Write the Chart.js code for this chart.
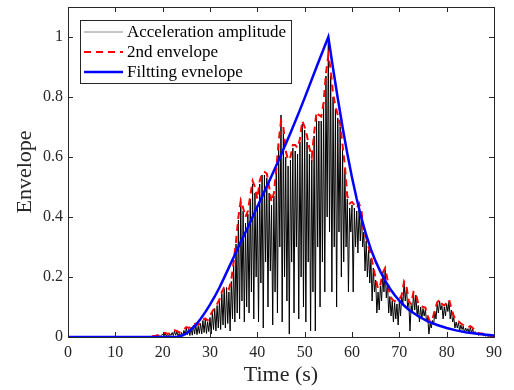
<!DOCTYPE html>
<html>
<head>
<meta charset="utf-8">
<script src="https://cdn.jsdelivr.net/npm/chart.js@4.4.1/dist/chart.umd.min.js"></script>
<style>
  html, body { margin: 0; padding: 0; background: #fff; }
  #wrap { width: 514px; height: 390px; }
</style>
</head>
<body>
<div id="wrap"><canvas id="chart" width="514" height="390"></canvas></div>
<script>
// Envelope of an acceleration record

var xTicks = [0, 10, 20, 30, 40, 50, 60, 70, 80, 90];
var yTicks = [0, 0.2, 0.4, 0.6, 0.8, 1];
var yTickLabels = ['0', '0.2', '0.4', '0.6', '0.8', '1'];

// acceleration amplitude, one sample every 0.25 s from t = 0
var accStart = 0, accStep = 0.25;
var accAmp = [
  0,0,0,0,0,0,0,0,  0,0,0,0,0,0,0,0,  0,0,0,0,0,0,0,0,
  0,0,0,0,0,0,0,0,  0,0,0,0,0,0,0,0,  0,0,0,0,0,0,0,0,
  0,0,0,0,0,0,0,0,  0,0,0,0,0,0,0,0,  0,0,0,0,0,0,0,0,
  0.001,0.002,0.001,0.003,0.002,0.004,0.002,0.006,
  0.010,0.003,0.012,0.004,0.008,0.002,0.010,0.005,
  0.015,0.005,0.020,0.006,0.018,0.004,0.012,0.003,
  0.015,0.004,0.022,0.006,0.030,0.008,0.026,0.005,
  0.032,0.006,0.040,0.010,0.042,0.008,0.036,0.012,
  0.045,0.010,0.055,0.015,0.060,0.012,0.050,0.018,
  0.065,0.010,0.080,0.025,0.095,0.020,0.105,0.030,
  0.120,0.025,0.145,0.040,0.160,0.030,0.165,0.045,
  0.150,0.020,0.185,0.060,0.240,0.050,0.310,0.080,
  0.390,0.060,0.450,0.120,0.420,0.050,0.380,0.100,
  0.410,0.080,0.460,0.150,0.510,0.060,0.480,0.200,
  0.440,0.050,0.510,0.180,0.540,0.030,0.540,0.250,
  0.530,0.100,0.480,0.220,0.440,0.040,0.470,0.150,
  0.550,0.080,0.640,0.300,0.740,0.050,0.690,0.200,
  0.600,0.120,0.570,0.010,0.590,0.250,0.630,0.080,
  0.620,0.300,0.610,0.060,0.650,0.200,0.710,0.100,
  0.690,0.050,0.650,0.250,0.610,0.020,0.590,0.150,
  0.670,0.020,0.740,0.300,0.720,0.100,0.720,0.250,
  0.770,0.150,0.870,0.400,0.990,0.350,0.870,0.150,
  0.800,0.300,0.760,0.100,0.730,0.350,0.700,0.200,
  0.630,0.250,0.560,0.300,0.460,0.150,0.430,0.350,
  0.440,0.150,0.430,0.300,0.420,0.280,0.430,0.320,
  0.410,0.300,0.350,0.220,0.320,0.200,0.290,0.180,
  0.260,0.120,0.230,0.150,0.190,0.080,0.150,0.090,
  0.170,0.120,0.210,0.150,0.225,0.130,0.180,0.080,
  0.135,0.070,0.120,0.050,0.115,0.060,0.110,0.040,
  0.120,0.070,0.135,0.110,0.180,0.120,0.165,0.100,
  0.115,0.020,0.105,0.080,0.145,0.090,0.140,0.070,
  0.105,0.050,0.100,0.060,0.095,0.070,0.092,0.050,
  0.065,0.010,0.045,0.030,0.055,0.040,0.085,0.060,
  0.110,0.080,0.120,0.090,0.105,0.060,0.100,0.070,
  0.110,0.085,0.120,0.060,0.090,0.050,0.065,0.030,
  0.050,0.030,0.048,0.020,0.040,0.025,0.036,0.015,
  0.030,0.020,0.028,0.012,0.032,0.015,0.026,0.010,
  0.018,0.008,0.013,0.005,0.010,0.006,0.010,0.004,
  0.006,0.003,0.005,0.002,0.004,0.002,0.003,0.001,
  0.001
];

// 2nd envelope, one sample every 0.5 s from t = 0
var envStart = 0, envStep = 0.5;
var env2nd = [
  0,0,0,0,0,0,0,0,  0,0,0,0,0,0,0,0,  0,0,0,0,0,0,0,0,
  0,0,0,0,0,0,0,0,  0,0,0,0,
  0.003,0.004,0.006,0.008,0.012,0.014,0.010,0.012,
  0.018,0.022,0.020,0.015,0.018,0.025,0.033,0.030,
  0.035,0.042,0.045,0.040,0.048,0.058,0.062,0.055,
  0.070,0.085,0.098,0.110,0.125,0.150,0.165,0.170,
  0.160,0.190,0.250,0.320,0.400,0.455,0.430,0.400,
  0.420,0.470,0.520,0.500,0.460,0.520,0.545,0.550,
  0.545,0.500,0.450,0.480,0.560,0.650,0.720,0.700,
  0.620,0.590,0.600,0.640,0.640,0.630,0.660,0.720,
  0.700,0.670,0.630,0.600,0.680,0.750,0.740,0.735,
  0.780,0.880,0.940,0.890,0.810,0.770,0.740,0.710,
  0.640,0.570,0.470,0.445,0.450,0.440,0.430,0.445,
  0.420,0.350,0.330,0.300,0.270,0.235,0.195,0.160,
  0.175,0.215,0.230,0.190,0.140,0.125,0.120,0.118,
  0.125,0.140,0.185,0.170,0.120,0.110,0.150,0.145,
  0.110,0.105,0.100,0.098,0.070,0.050,0.060,0.090,
  0.115,0.125,0.110,0.105,0.115,0.125,0.095,0.070,
  0.055,0.052,0.045,0.040,0.035,0.032,0.036,0.030,
  0.020,0.015,0.012,0.012,0.008,0.006,0.005,0.004,
  0.003
];

// fitted envelope
var fitTime = [0, 23, 24, 25, 26, 27, 28, 29, 30, 31, 32, 33, 34, 35, 36, 37, 38, 39, 40,
  41, 42, 43, 44, 45, 46, 47, 48, 49, 50, 51, 52, 53, 54, 55, 56, 57, 58, 59, 60,
  61, 62, 63, 64, 65, 66, 67, 68, 69, 70, 71, 72, 74, 76, 78, 80, 82, 84, 86, 88, 90];
var fitEnv = [0, 0, 0.004, 0.012, 0.025, 0.040, 0.060, 0.083, 0.108, 0.135, 0.165, 0.198, 0.232, 0.266, 0.300, 0.333, 0.366, 0.400, 0.434,
  0.468, 0.502, 0.537, 0.572, 0.607, 0.643, 0.680, 0.718, 0.757, 0.797, 0.838, 0.879, 0.920, 0.960, 1.000, 0.895, 0.795, 0.700, 0.612, 0.532,
  0.460, 0.396, 0.340, 0.292, 0.252, 0.218, 0.188, 0.162, 0.140, 0.121, 0.105, 0.091, 0.069, 0.052, 0.040, 0.030, 0.022, 0.016, 0.012, 0.008, 0.005];

var SERIF = "'Liberation Serif', 'Times New Roman', serif";
var INK = '#262626';

function sampled(start, step, values) {
  return values.map(function (v, i) { return { x: start + i * step, y: v }; });
}
function paired(xs, ys) {
  return xs.map(function (x, i) { return { x: x, y: ys[i] }; });
}

// box round the plot with inward ticks on all four sides (MATLAB look)
var frame = {
  id: 'frame',
  afterDatasetsDraw: function (chart) {
    var ctx = chart.ctx, a = chart.chartArea;
    var sx = chart.scales.x, sy = chart.scales.y, len = 5;
    ctx.save();
    ctx.strokeStyle = INK;
    ctx.lineWidth = 1;
    ctx.strokeRect(Math.round(a.left) + 0.5, Math.round(a.top) + 0.5,
      Math.round(a.right - a.left), Math.round(a.bottom - a.top));
    ctx.beginPath();
    xTicks.forEach(function (v) {
      var px = Math.round(sx.getPixelForValue(v)) + 0.5;
      ctx.moveTo(px, a.bottom); ctx.lineTo(px, a.bottom - len);
      ctx.moveTo(px, a.top); ctx.lineTo(px, a.top + len);
    });
    yTicks.forEach(function (v) {
      var py = Math.round(sy.getPixelForValue(v)) + 0.5;
      ctx.moveTo(a.left, py); ctx.lineTo(a.left + len, py);
      ctx.moveTo(a.right, py); ctx.lineTo(a.right - len, py);
    });
    ctx.stroke();
    ctx.restore();
  }
};

// legend box in the upper left corner of the plot
var boxLegend = {
  id: 'boxLegend',
  afterDraw: function (chart) {
    var ctx = chart.ctx;
    var x = 80, y = 20, w = 211, h = 63;
    ctx.save();
    ctx.fillStyle = '#fff';
    ctx.fillRect(x, y, w, h);
    ctx.strokeStyle = INK;
    ctx.lineWidth = 1;
    ctx.strokeRect(x + 0.5, y + 0.5, w, h);
    ctx.font = '17px ' + SERIF;
    ctx.textBaseline = 'middle';
    ctx.fillStyle = '#000';
    chart.data.datasets.forEach(function (ds, i) {
      var ly = y + 12 + i * 20;
      ctx.beginPath();
      ctx.strokeStyle = i === 0 ? '#8c8c8c' : ds.borderColor;
      ctx.lineWidth = Math.max(ds.borderWidth, 1);
      ctx.setLineDash(ds.borderDash || []);
      ctx.moveTo(84, ly);
      ctx.lineTo(123, ly);
      ctx.stroke();
      ctx.setLineDash([]);
      ctx.fillText(ds.label, 127, ly + 1);
    });
    ctx.restore();
  }
};

new Chart(document.getElementById('chart'), {
  type: 'line',
  data: {
    datasets: [
      {
        label: 'Acceleration amplitude',
        data: sampled(accStart, accStep, accAmp),
        borderColor: '#000000', borderWidth: 1,
        pointRadius: 0, tension: 0, order: 3
      },
      {
        label: '2nd envelope',
        data: sampled(envStart, envStep, env2nd),
        borderColor: '#ff0000', borderWidth: 2, borderDash: [7, 5],
        pointRadius: 0, tension: 0, order: 2
      },
      {
        label: 'Filtting evnelope',
        data: paired(fitTime, fitEnv),
        borderColor: '#0000ff', borderWidth: 2.5,
        pointRadius: 0, tension: 0, order: 1
      }
    ]
  },
  options: {
    responsive: false,
    animation: false,
    events: [],
    layout: { padding: { left: 0, top: 7, right: 20, bottom: 0 } },
    plugins: { legend: { display: false }, tooltip: { enabled: false } },
    scales: {
      x: {
        type: 'linear', min: 0, max: 90,
        afterBuildTicks: function (s) { s.ticks = xTicks.map(function (v) { return { value: v }; }); },
        afterFit: function (s) { s.height = 53; s.paddingLeft = 0; s.paddingRight = 0; },
        grid: { display: false, drawTicks: false },
        border: { display: false },
        ticks: {
          color: INK, padding: 6, maxRotation: 0, autoSkip: false,
          font: { family: SERIF, size: 16 },
          callback: function (v) { return String(v); }
        },
        title: { display: true, text: 'Time (s)', color: INK, font: { family: SERIF, size: 22 }, padding: { top: 0, bottom: 2 } }
      },
      y: {
        type: 'linear', min: 0, max: 1.1,
        afterBuildTicks: function (s) { s.ticks = yTicks.map(function (v) { return { value: v }; }); },
        afterFit: function (s) { s.width = 68; s.paddingTop = 0; s.paddingBottom = 0; },
        grid: { display: false, drawTicks: false },
        border: { display: false },
        ticks: {
          color: INK, padding: 5, autoSkip: false,
          font: { family: SERIF, size: 16 },
          callback: function (v, i) { return yTickLabels[i]; }
        },
        title: { display: true, text: 'Envelope', color: INK, font: { family: SERIF, size: 22 }, padding: { top: 12, bottom: 0 } }
      }
    }
  },
  plugins: [frame, boxLegend]
});
</script>
</body>
</html>
